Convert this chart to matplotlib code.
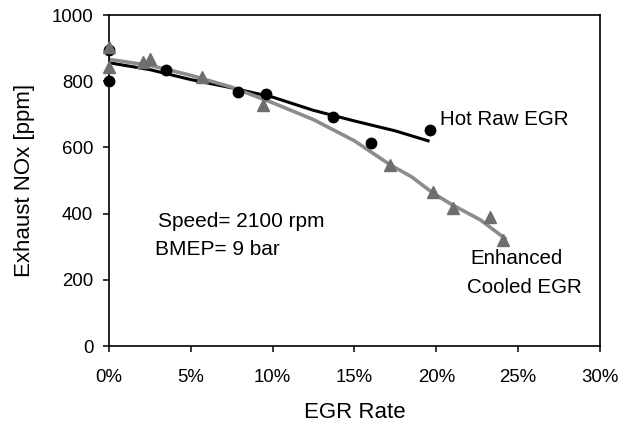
import matplotlib

matplotlib.use("Agg")
import matplotlib.pyplot as plt
from matplotlib.ticker import FuncFormatter

plt.rcParams["font.family"] = ["Liberation Sans", "DejaVu Sans"]

# measured points (EGR rate in %, NOx in ppm)
hot_egr = [0.0, 0.0, 3.5, 7.9, 9.6, 13.7, 16.0, 19.6]
hot_nox = [800, 895, 833, 768, 762, 692, 612, 652]
cool_egr = [0.0, 0.0, 2.1, 2.5, 5.7, 9.4, 17.2, 19.8, 21.0, 23.3, 24.1]
cool_nox = [904, 843, 858, 866, 812, 728, 548, 466, 418, 391, 320]

# trend lines
hot_fit_egr = [0.0, 2.5, 5.0, 7.5, 10.0, 12.5, 15.0, 17.5, 19.5]
hot_fit_nox = [856, 835, 805, 780, 752, 712, 680, 650, 620]
cool_fit_egr = [0.0, 2.5, 5.0, 7.5, 10.0, 12.5, 15.0, 17.2, 18.5, 19.8, 21.0, 22.7, 24.2]
cool_fit_nox = [866, 848, 818, 782, 735, 684, 620, 547, 511, 462, 426, 381, 325]

fig = plt.figure(figsize=(6.21, 4.30), dpi=100)
ax = fig.add_axes([0.1755, 0.1953, 0.7905, 0.7697])

ax.plot(hot_fit_egr, hot_fit_nox, color="black", lw=2.2, zorder=2)
ax.plot(cool_fit_egr, cool_fit_nox, color="#8c8c8c", lw=2.6, zorder=2)
ax.plot(hot_egr, hot_nox, "o", color="black", ms=7.5, zorder=3, clip_on=False)
ax.plot(cool_egr, cool_nox, "^", color="#6e6e6e", ms=9, zorder=4, clip_on=False)

ax.set_xlim(0, 30)
ax.set_ylim(0, 1000)
ax.set_xticks(range(0, 31, 5))
ax.set_yticks(range(0, 1001, 200))
ax.xaxis.set_major_formatter(FuncFormatter(lambda v, _: f"{v:.0f}%"))
ax.tick_params(direction="out", length=4.3, width=1.1, labelsize=13.4)
ax.tick_params(axis="x", pad=12)
ax.tick_params(axis="y", pad=7)
for s in ax.spines.values():
    s.set_linewidth(1.2)

ax.set_xlabel("EGR Rate", fontsize=16, labelpad=12)
ax.set_ylabel("Exhaust NOx [ppm]", fontsize=16, labelpad=12)

ax.text(20.2, 683, "Hot Raw EGR", fontsize=14.8, va="center", ha="left")
ax.text(24.9, 263, "Enhanced", fontsize=14.8, va="center", ha="center")
ax.text(25.4, 178, "Cooled EGR", fontsize=14.8, va="center", ha="center")
ax.text(3.0, 375, "Speed= 2100 rpm", fontsize=15, va="center", ha="left")
ax.text(2.8, 293, "BMEP= 9 bar", fontsize=15, va="center", ha="left")

fig.savefig("out.png", dpi=100)
